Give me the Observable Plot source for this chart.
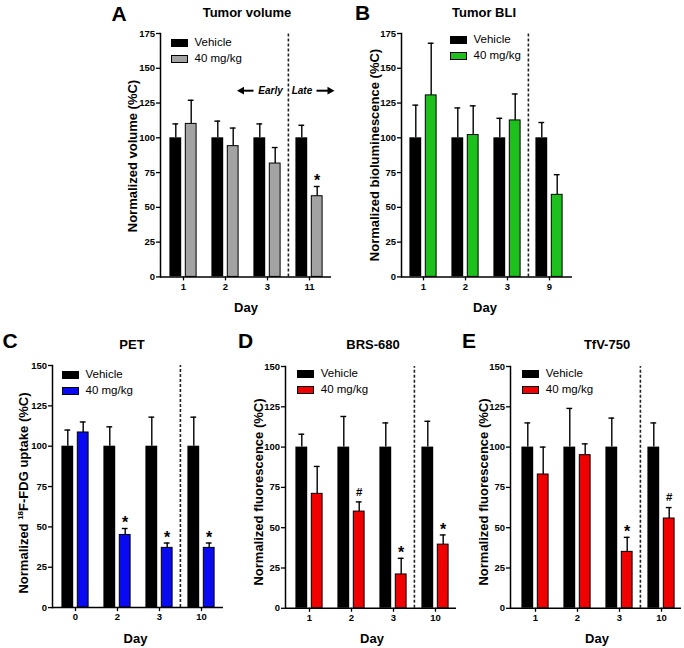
<!DOCTYPE html>
<html><head><meta charset="utf-8">
<script src="https://cdn.jsdelivr.net/npm/d3@7"></script>
<script src="https://cdn.jsdelivr.net/npm/@observablehq/plot@0.6"></script>
<style>
body{margin:0;background:#fff;}
#fig{position:relative;width:684px;height:648px;overflow:hidden;background:#fff;font-family:Arial,"Liberation Sans",sans-serif;color:#000;}
.abs{position:absolute;white-space:nowrap;line-height:1;}
.c{transform:translate(-50%,-50%);}
.lc{transform:translate(0,-50%);}
.rot{transform:translate(-50%,-50%) rotate(-90deg);}
.letter{font-size:21px;font-weight:bold;}
.title{font-size:13px;font-weight:bold;}
.ylab{font-size:13px;font-weight:bold;}
.xlab{font-size:13px;font-weight:bold;}
.leg{font-size:11.5px;}
.box{position:absolute;width:17px;height:8px;box-sizing:border-box;}
.note{font-size:10px;font-weight:bold;font-style:italic;}
</style></head>
<body><div id="fig"></div>
<script>
// ---- data ----
const groups = ["Vehicle", "40 mg/kg"];

const daysA = ["1", "2", "3", "11"];
const vehA = [100, 100, 100, 100];
const vehCapA = [110, 112, 110, 109];
const trtA = [110, 94, 81.5, 58];
const trtCapA = [127, 107, 93, 65];
const sigA = ["", "", "", "*"];

const daysB = ["1", "2", "3", "9"];
const vehB = [100, 100, 100, 100];
const vehCapB = [123.5, 121.5, 114, 111];
const trtB = [130.5, 102, 112.5, 59];
const trtCapB = [168, 123, 131.5, 73.5];
const sigB = ["", "", "", ""];

const daysC = ["0", "2", "3", "10"];
const vehC = [100, 100, 100, 100];
const vehCapC = [110, 112, 118, 118];
const trtC = [108.5, 45, 37, 37];
const trtCapC = [115, 49, 40, 40];
const sigC = ["", "*", "*", "*"];

const daysD = ["1", "2", "3", "10"];
const vehD = [100, 100, 100, 100];
const vehCapD = [108, 119, 115, 116];
const trtD = [71, 60, 21, 39.5];
const trtCapD = [88, 66, 31, 45.5];
const sigD = ["", "#", "*", "*"];

const daysE = ["1", "2", "3", "10"];
const vehE = [100, 100, 100, 100];
const vehCapE = [115, 124, 118, 115];
const trtE = [83, 95, 35, 55.7];
const trtCapE = [100, 102, 44, 62.5];
const sigE = ["", "", "*", "#"];

// ---- layout ----
const fig = document.getElementById("fig");
const STEP = 42.2;

function el(html, x, y, cls) {
  const d = document.createElement("div");
  d.className = "abs " + cls;
  d.style.left = x + "px";
  d.style.top = y + "px";
  d.innerHTML = html;
  fig.appendChild(d);
  return d;
}

function panel(p) {
  const rows = p.days.flatMap((d, i) => [
    {day: d, group: groups[0], value: p.veh[i], cap: p.vehCap[i], sig: ""},
    {day: d, group: groups[1], value: p.trt[i], cap: p.trtCap[i], sig: p.sig[i]}
  ]);
  const veh = rows.filter(r => r.group === groups[0]);
  const trt = rows.filter(r => r.group === groups[1]);
  const svgLeft = p.axisX - 45, svgTop = p.yTop - 15;
  const axisEnd = p.axisX + 171;
  const width = axisEnd + 10 - svgLeft;
  const height = p.y0 + 26 - svgTop;
  const b0 = p.bandStart - svgLeft;
  const chart = Plot.plot({
    width, height,
    marginLeft: p.axisX - svgLeft,
    marginRight: width - (axisEnd - svgLeft),
    marginTop: p.yTop - svgTop,
    marginBottom: height - (p.y0 - svgTop),
    style: {background: "transparent", fontFamily: "Arial, 'Liberation Sans', sans-serif", overflow: "visible", color: "#000"},
    x: {domain: p.days, range: [b0, b0 + 4 * STEP], padding: 0},
    y: {domain: [0, p.yMax], nice: false},
    marks: [
      Plot.ruleX(veh, {x: "day", y1: "value", y2: "cap", dx: -7.7, strokeWidth: 1.4, stroke: "#000"}),
      Plot.tickY(veh, {x: "day", y: "cap", insetLeft: 10.4, insetRight: 25.8, strokeWidth: 1.4, stroke: "#000"}),
      Plot.ruleX(trt, {x: "day", y1: "value", y2: "cap", dx: 7.7, strokeWidth: 1.4, stroke: "#000"}),
      Plot.tickY(trt, {x: "day", y: "cap", insetLeft: 25.8, insetRight: 10.4, strokeWidth: 1.4, stroke: "#000"}),
      Plot.barY(veh, {x: "day", y: "value", fill: "#000", insetLeft: 7.4, insetRight: 22.8}),
      Plot.barY(trt, {x: "day", y: "value", fill: p.color, stroke: "#000", strokeWidth: 1, insetLeft: 23.3, insetRight: 7.9}),
      Plot.text(trt.filter(r => r.sig === "*"), {x: "day", y: "cap", text: "sig", dx: 7.7, dy: -5.5, fontSize: 16, fontWeight: "bold"}),
      Plot.text(trt.filter(r => r.sig === "#"), {x: "day", y: "cap", text: "sig", dx: 7.7, dy: -10, fontSize: 11.5, fontWeight: "bold"}),
      Plot.ruleX([p.days[3]], {dx: -STEP / 2, y1: 0, y2: p.yMax, stroke: "#222", strokeWidth: 1.6, strokeDasharray: "3,2"}),
      Plot.ruleY([0], {stroke: "#000", strokeWidth: 1.5}),
      Plot.frame({anchor: "left", stroke: "#000", strokeWidth: 1.5}),
      Plot.axisY({ticks: d3.range(0, p.yMax + 1, 25), tickSize: 4, tickPadding: 1.5, fontSize: 9.5, fontWeight: "bold", fill: "#000", label: null, strokeWidth: 1.3}),
      Plot.axisX({tickSize: 4, tickPadding: 2, fontSize: 9.5, fontWeight: "bold", fill: "#000", label: null, strokeWidth: 1.3})
    ]
  });
  chart.style.position = "absolute";
  chart.style.left = svgLeft + "px";
  chart.style.top = svgTop + "px";
  fig.appendChild(chart);

  // text around the panel
  el(p.id, p.letterX, p.letterY, "lc letter");
  el(p.title, p.titleX, p.titleY, "c title");
  el(p.ylab, p.ylabX, p.ylabY, "rot ylab");
  el("Day", p.titleX + p.dayDX, p.y0 + 30.5, "c xlab");
  // legend
  const lx = p.legX, ly = p.legY;
  const b1 = document.createElement("div"); b1.className = "box";
  b1.style.left = lx + "px"; b1.style.top = ly + "px"; b1.style.background = "#000";
  const b2 = document.createElement("div"); b2.className = "box";
  b2.style.left = lx + "px"; b2.style.top = (ly + 16) + "px"; b2.style.background = p.color; b2.style.border = "1px solid #000";
  fig.appendChild(b1); fig.appendChild(b2);
  el(groups[0], lx + 23.5, ly + 4, "lc leg");
  el(groups[1], lx + 23.5, ly + 20, "lc leg");
}

const panels = [
  {id: "A", title: "Tumor volume", ylab: "Normalized volume (%C)", days: daysA, veh: vehA, vehCap: vehCapA, trt: trtA, trtCap: trtCapA, sig: sigA,
   color: "#a3a3a3", yMax: 175, axisX: 160, bandStart: 162, y0: 276.7, yTop: 33.3,
   letterX: 111.5, letterY: 12.5, titleX: 247, titleY: 12, ylabX: 132, ylabY: 156, dayDX: -1, legX: 171, legY: 39},
  {id: "B", title: "Tumor BLI", ylab: "Normalized bioluminescence (%C)", days: daysB, veh: vehB, vehCap: vehCapB, trt: trtB, trtCap: trtCapB, sig: sigB,
   color: "#1ec01e", yMax: 175, axisX: 401.3, bandStart: 402, y0: 276.7, yTop: 33.3,
   letterX: 355, letterY: 12, titleX: 484, titleY: 12, ylabX: 374, ylabY: 155, dayDX: 1, legX: 450, legY: 36},
  {id: "C", title: "PET", ylab: "Normalized <sup style='font-size:8px;vertical-align:5px'>18</sup>F-FDG uptake (%C)", days: daysC, veh: vehC, vehCap: vehCapC, trt: trtC, trtCap: trtCapC, sig: sigC,
   color: "#0a0af0", yMax: 150, axisX: 51.5, bandStart: 52.8, y0: 607.3, yTop: 365.2,
   letterX: 2.5, letterY: 340, titleX: 132, titleY: 343.5, ylabX: 23.3, ylabY: 493, dayDX: 3.5, legX: 62, legY: 370.5},
  {id: "D", title: "BRS-680", ylab: "Normalized fluorescence (%C)", days: daysD, veh: vehD, vehCap: vehCapD, trt: trtD, trtCap: trtCapD, sig: sigD,
   color: "#f00000", yMax: 150, axisX: 285, bandStart: 287.6, y0: 607.3, yTop: 365.5,
   letterX: 238, letterY: 340, titleX: 373, titleY: 343.5, ylabX: 258.3, ylabY: 491.5, dayDX: -1, legX: 297.3, legY: 370},
  {id: "E", title: "TfV-750", ylab: "Normalized fluorescence (%C)", days: daysE, veh: vehE, vehCap: vehCapE, trt: trtE, trtCap: trtCapE, sig: sigE,
   color: "#f00000", yMax: 150, axisX: 509.5, bandStart: 512.8, y0: 607.3, yTop: 365.5,
   letterX: 462, letterY: 340, titleX: 607, titleY: 343.5, ylabX: 483.3, ylabY: 491.5, dayDX: -10, legX: 522.3, legY: 370}
];
panels.forEach(panel);

// Early / Late annotation (panel A)
el("Early", 258.3, 90.7, "lc note");
el("Late", 291.7, 90.7, "lc note");
const ns = "http://www.w3.org/2000/svg";
const arr = document.createElementNS(ns, "svg");
arr.setAttribute("width", 684); arr.setAttribute("height", 120);
arr.style.position = "absolute"; arr.style.left = "0px"; arr.style.top = "0px";
arr.innerHTML =
  "<line x1='242' y1='90.7' x2='253.5' y2='90.7' stroke='#000' stroke-width='2'/>" +
  "<polygon points='237,90.7 244,86.8 244,94.6' fill='#000'/>" +
  "<line x1='316.5' y1='90.7' x2='329' y2='90.7' stroke='#000' stroke-width='2'/>" +
  "<polygon points='334.5,90.7 327.5,86.8 327.5,94.6' fill='#000'/>";
fig.appendChild(arr);
</script>
</body></html>
